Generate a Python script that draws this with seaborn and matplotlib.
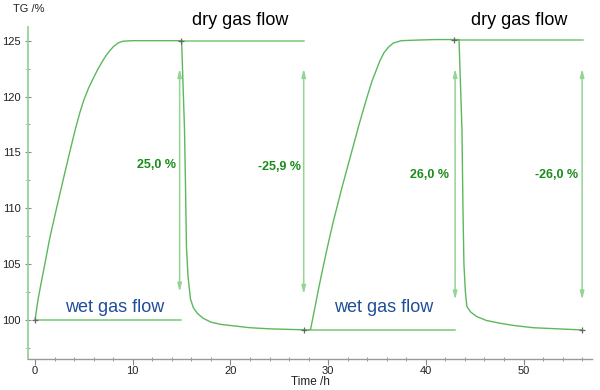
import numpy as np
import pandas as pd
import matplotlib
matplotlib.use("Agg")
import matplotlib.pyplot as plt
import seaborn as sns
from matplotlib.ticker import MultipleLocator

# ---- data ----
time_h = [0, 0.3, 0.6, 1, 1.5, 2.2, 3, 3.6, 4.1, 4.6, 5, 5.5, 6, 6.4, 6.7, 7.0, 7.3, 7.6, 8.0, 8.5, 9, 10, 12, 15.0,
          15.15, 15.3, 15.4, 15.5, 15.65, 15.9, 16.2, 16.6, 17.2, 18, 19, 20.5, 22, 24, 26, 28.0,
          28.2, 28.35, 28.6, 29.0, 29.5, 30.0, 30.5, 31.4, 32.3, 33.2, 34.0, 34.5, 34.9, 35.3, 35.7, 36.2, 36.7,
          37.5, 39, 41, 43.0, 43.4,
          43.55, 43.7, 43.8, 43.9, 44.05, 44.2, 44.6, 45.2, 46.2, 47.6, 49, 51, 53.5, 56]
tg_pct = [100, 101.8, 103.2, 105, 107.3, 110, 113.0, 115.2, 117, 118.6, 119.7, 120.8, 121.7, 122.4, 122.85, 123.3, 123.7, 124.05, 124.45, 124.8, 124.95, 125.0, 125.0, 125.0,
          121, 117, 112, 106.5, 104, 101.9, 101.1, 100.6, 100.15, 99.8, 99.6, 99.45, 99.3, 99.2, 99.15, 99.1,
          99.15, 99.8, 100.9, 102.7, 104.8, 106.8, 108.7, 111.8, 114.7, 117.6, 120.0, 121.4, 122.3, 123.2, 123.9, 124.45, 124.8,
          125.0, 125.05, 125.1, 125.1, 125.1,
          121, 117, 110, 105, 102.5, 101.2, 100.7, 100.3, 99.95, 99.7, 99.5, 99.3, 99.2, 99.1]

# reference levels: (x start, x end, level)
level_x0 = [0, 15.0, 28.0, 43.0]
level_x1 = [14.9, 27.5, 43.0, 56.1]
level_y = [100.0, 125.0, 99.1, 125.1]

# step arrows
arrow_x = [14.8, 27.5, 43.0, 56.0]
arrow_top = [122.5, 122.5, 122.5, 122.5]
arrow_bot = [102.5, 102.3, 101.8, 101.8]
step_labels = ["25,0 %", "-25,9 %", "26,0 %", "-26,0 %"]
label_x = [14.4, 27.2, 42.4, 55.6]
label_y = [113.9, 113.7, 113.0, 113.0]

# marker crosses
mark_x = [0, 14.95, 27.5, 42.85, 56.0]
mark_y = [100.0, 125.0, 99.1, 125.1, 99.1]

dry_text_x = [21.0, 49.6]
wet_text_x = [8.1, 35.7]

df = pd.DataFrame({"Time /h": time_h, "TG /%": tg_pct})

sns.set_theme(style="white")
plt.rcParams["font.family"] = ["Liberation Sans", "DejaVu Sans"]

fig = plt.figure(figsize=(6, 3.9), dpi=100)
ax = fig.add_axes([0.0467, 0.0795, 0.9403, 0.852])

curve_c = "#5cb85c"
light_c = "#94d494"

sns.lineplot(data=df, x="Time /h", y="TG /%", ax=ax, color=curve_c, lw=1.0, sort=False)

for x0, x1, y in zip(level_x0, level_x1, level_y):
    ax.plot([x0, x1], [y, y], color=light_c, lw=1.4, zorder=1)

for x, yt, yb in zip(arrow_x, arrow_top, arrow_bot):
    ax.annotate("", xy=(x, yt), xytext=(x, yb),
                arrowprops=dict(arrowstyle="<|-|>,head_length=0.4,head_width=0.1",
                                color=light_c, lw=1.1, shrinkA=0, shrinkB=0))

for x, y, s in zip(label_x, label_y, step_labels):
    ax.text(x, y, s, color="#1a8c1a", fontsize=9, fontweight="bold",
            ha="right", va="center")

ax.plot(mark_x, mark_y, ls="none", marker="+", color="#666666", ms=5, mew=0.9, zorder=5)

for x in dry_text_x:
    ax.text(x, 126.85, "dry gas flow", color="black", fontsize=13, ha="center", va="center")
for x in wet_text_x:
    ax.text(x, 101.1, "wet gas flow", color="#1f4e99", fontsize=13, ha="center", va="center")

ax.set_xlim(-0.72, 57.03)
ax.set_ylim(96.5, 126.25)
ax.xaxis.set_major_locator(MultipleLocator(10))
ax.xaxis.set_minor_locator(MultipleLocator(2))
ax.yaxis.set_major_locator(MultipleLocator(5))
ax.yaxis.set_minor_locator(MultipleLocator(2.5))
ax.set_yticks([100, 105, 110, 115, 120, 125])

for s in ["top", "right"]:
    ax.spines[s].set_visible(False)
ax.spines["left"].set_color(light_c)
ax.spines["left"].set_linewidth(1.3)
ax.spines["bottom"].set_color("#999999")
ax.spines["bottom"].set_linewidth(1.0)

ax.tick_params(axis="x", which="major", direction="out", length=4, width=0.8,
               color="#888888", labelsize=8, pad=1, labelcolor="#222222")
ax.tick_params(axis="x", which="minor", direction="inout", length=3, width=0.6, color="#888888")
ax.tick_params(axis="y", which="major", direction="inout", length=5, width=0.8,
               color="#888888", labelsize=8, pad=3, labelcolor="#222222")
ax.tick_params(axis="y", which="minor", direction="inout", length=3, width=0.6, color="#888888")
ax.tick_params(bottom=True, left=True, which="both")

ax.set_xlabel("Time /h", fontsize=8.5, labelpad=0, color="#222222")
ax.set_ylabel("")
fig.text(13 / 600, 1 - 9 / 390, "TG /%", fontsize=8, ha="left", va="center", color="#222222")

fig.savefig("out.png", dpi=100)
